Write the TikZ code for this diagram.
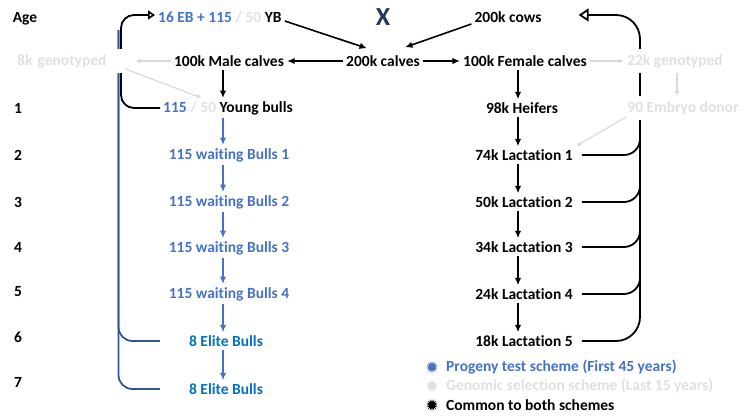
\documentclass[tikz,border=0pt]{standalone}
\usepackage{fontspec}
\setmainfont{Carlito}[Ligatures=NoCommon]
\usetikzlibrary{arrows.meta,shapes.geometric,backgrounds}
\definecolor{ptblue}{HTML}{4472C4}
\definecolor{eliteblue}{HTML}{0070C0}
\definecolor{bracketblue}{HTML}{2F5597}
\definecolor{crossnavy}{HTML}{203864}
\definecolor{gstext}{HTML}{E0E0E0}
\definecolor{gsline}{HTML}{D9D9D9}
\begin{document}
\begin{tikzpicture}[x=1pt,y=-1pt,
  every node/.style={font=\fontsize{15.5}{18}\selectfont\bfseries, inner sep=3pt},
  pt/.style={text=ptblue},
  elite/.style={text=eliteblue},
  gs/.style={text=gstext, fill=white, inner ysep=5pt},
  blkarrow/.style={draw=black, line width=1.6pt, -{Latex[length=7.5pt,width=6.5pt]}},
  bluearrow/.style={draw=ptblue, line width=1.6pt, -{Latex[length=7.5pt,width=6.5pt]}},
  grayarrow/.style={draw=gsline, line width=1.2pt, -{Latex[length=5.5pt,width=5pt]}},
  returnline/.style={draw=black, line width=1.8pt, rounded corners=16pt},
  bracket/.style={draw=bracketblue, line width=1.8pt, rounded corners=14pt},
  legstar/.style={star, star points=16, star point ratio=1.9, minimum size=12pt, inner sep=0pt},
]
\useasboundingbox (0,0) rectangle (740,416);

% age column
\node (age) at (25,19) {Age};
\node (a1) at (18,108) {1};
\node (a2) at (18,155) {2};
\node (a3) at (18,202) {3};
\node (a4) at (18,247) {4};
\node (a5) at (18,292) {5};
\node (a6) at (18,337) {6};
\node (a7) at (18,382) {7};

% parents
\node[anchor=west] (topyb) at (155,17) {\color{ptblue}16 EB + 115 \color{gstext}/ 50 \color{black}YB};
\node[text=crossnavy, font=\fontsize{26}{30}\selectfont\bfseries] (cross) at (383,17) {X};
\node (cows) at (508,17) {200k cows};

% calves
\node[gs, anchor=west, text width=104pt, align=left, inner xsep=4pt] (g8k) at (13,61) {8k genotyped};
\node (male) at (229,61) {100k Male calves};
\node (calves) at (383,61) {200k calves};
\node (female) at (525,61) {100k Female calves};
\node[gs] (g22k) at (675,61) {22k genotyped};

% male line
\node[anchor=west] (young) at (160,108) {\color{ptblue}115 \color{gstext}/ 50 \color{black}Young bulls};
\node[pt] (w1) at (229,155) {115 waiting Bulls 1};
\node[pt] (w2) at (229,202) {115 waiting Bulls 2};
\node[pt] (w3) at (229,248) {115 waiting Bulls 3};
\node[pt] (w4) at (229,294) {115 waiting Bulls 4};
\node[elite] (e1) at (226,341) {8 Elite Bulls};
\node[elite] (e2) at (226,389) {8 Elite Bulls};

% female line
\node (heifers) at (522,108) {98k Heifers};
\node[gs] (embryo) at (683,108) {90 Embryo donor};
\node (l1) at (524,155) {74k Lactation 1};
\node (l2) at (524,202) {50k Lactation 2};
\node (l3) at (524,247) {34k Lactation 3};
\node (l4) at (524,294) {24k Lactation 4};
\node (l5) at (524,341) {18k Lactation 5};

% legend
\node[legstar, fill=ptblue] (k1) at (432,367) {};
\node[legstar, fill=gstext] (k2) at (432,386) {};
\node[legstar, fill=black] (k3) at (432,405) {};
\node[anchor=west, pt] (t1) at (443,367) {Progeny test scheme (First 45 years)};
\node[anchor=west, text=gstext] (t2) at (443,386) {Genomic selection scheme (Last 15 years)};
\node[anchor=west] (t3) at (443,405) {Common to both schemes};

% column guides
\coordinate (mcol) at (223,0);
\coordinate (fcol) at (518,0);
\coordinate (lcol) at (121,0);
\coordinate (btop) at (118.5,30);
\coordinate (rcol) at (640,0);

% return paths and bracket, behind the text boxes
\begin{scope}[on background layer]
  \draw[bracket, shorten <=26pt] (e2.west) -- (e2.west -| btop) -- (btop);
  \draw[bracket, shorten <=26pt] (e1.west) -- (e1.west -| btop) -- (btop);
  \draw[returnline, rounded corners=13pt, -{Triangle[open, length=7pt, width=9pt, line width=1.6pt]}]
    (young.west) -- (young.west -| lcol) -- ([yshift=2pt]topyb.west -| lcol) -- ([yshift=2pt]topyb.west);
  \draw[returnline, shorten <=6pt, rounded corners=24pt, -{Triangle[open, length=10pt, width=13pt, line width=1.8pt]}, shorten >=34pt]
    (l5.east) -- (l5.east -| rcol) -- ([yshift=2pt]cows.east -| rcol) -- ([yshift=2pt]cows.east);
  \foreach \l in {l1,l2,l3,l4}
    \draw[returnline, shorten <=6pt] (\l.east) -- (\l.east -| rcol) -- (rcol |- g22k.east);
\end{scope}

% mating and sex split
\draw[blkarrow] ([yshift=-4pt]topyb.east) -- ([xshift=-16pt,yshift=4pt]calves.north);
\draw[blkarrow] ([yshift=-7pt]cows.west) -- ([xshift=22pt,yshift=5pt]calves.north);
\draw[blkarrow] (calves.west) -- (male.east);
\draw[blkarrow] (calves.east) -- (female.west);

% male chain
\draw[blkarrow] (mcol |- male.south) -- (mcol |- young.north);
\draw[bluearrow] (mcol |- young.south) -- (mcol |- w1.north);
\draw[bluearrow] (mcol |- w1.south) -- (mcol |- w2.north);
\draw[bluearrow] (mcol |- w2.south) -- (mcol |- w3.north);
\draw[bluearrow] (mcol |- w3.south) -- (mcol |- w4.north);
\draw[bluearrow] (mcol |- w4.south) -- (mcol |- e1.north);
\draw[bluearrow] (mcol |- e1.south) -- (mcol |- e2.north);

% female chain
\draw[blkarrow] (fcol |- female.south) -- (fcol |- heifers.north);
\draw[blkarrow] (fcol |- heifers.south) -- (fcol |- l1.north);
\draw[blkarrow] (fcol |- l1.south) -- (fcol |- l2.north);
\draw[blkarrow] (fcol |- l2.south) -- (fcol |- l3.north);
\draw[blkarrow] (fcol |- l3.south) -- (fcol |- l4.north);
\draw[blkarrow] (fcol |- l4.south) -- (fcol |- l5.north);

% genomic selection paths
\draw[grayarrow, shorten >=10pt] (male.west) -- (g8k.east);
\draw[grayarrow] ([yshift=-8pt]g8k.east) -- ([xshift=42pt]young.north west);
\draw[grayarrow] (female.east) -- (g22k.west);
\draw[grayarrow] ([xshift=2pt]g22k.south) -- ([xshift=2pt]g22k.south |- embryo.north);
\draw[grayarrow] ([xshift=2pt,yshift=3pt]embryo.south west) -- (l1.north east);
\end{tikzpicture}
\end{document}
